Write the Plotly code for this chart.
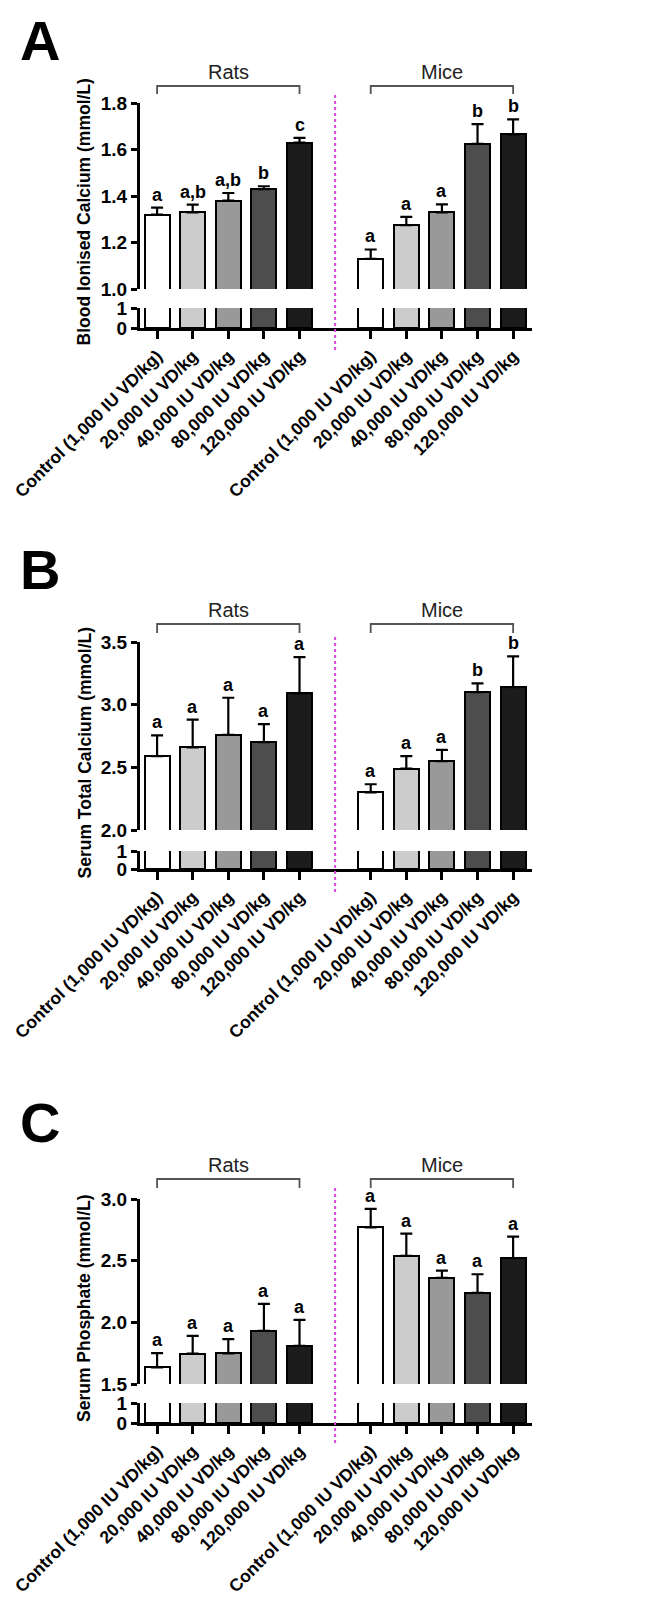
import plotly.graph_objects as go

# page body has an 8px margin: draw the figure 8px smaller and shift all pixel positions
OFF = 8
W, H = 669 - OFF, 1599 - OFF

# ---------------- data ----------------
groups = ["Control (1,000 IU VD/kg)", "20,000 IU VD/kg", "40,000 IU VD/kg",
          "80,000 IU VD/kg", "120,000 IU VD/kg"]
tick_labels = groups + groups
bar_colors = ["#ffffff", "#cccccc", "#999999", "#4d4d4d", "#1c1c1c"]

# Panel A: Blood ionised calcium
a_rats_mean = [1.32, 1.33, 1.38, 1.43, 1.63]
a_rats_sem = [0.03, 0.033, 0.033, 0.012, 0.02]
a_mice_mean = [1.13, 1.275, 1.33, 1.624, 1.665]
a_mice_sem = [0.04, 0.035, 0.034, 0.085, 0.065]
a_rats_letters = ["a", "a,b", "a,b", "b", "c"]
a_mice_letters = ["a", "a", "a", "b", "b"]

# Panel B: Serum total calcium
b_rats_mean = [2.59, 2.66, 2.76, 2.70, 3.09]
b_rats_sem = [0.165, 0.22, 0.295, 0.145, 0.29]
b_mice_mean = [2.30, 2.49, 2.55, 3.10, 3.14]
b_mice_sem = [0.065, 0.10, 0.09, 0.07, 0.245]
b_rats_letters = ["a", "a", "a", "a", "a"]
b_mice_letters = ["a", "a", "a", "b", "b"]

# Panel C: Serum phosphate
c_rats_mean = [1.635, 1.746, 1.749, 1.93, 1.81]
c_rats_sem = [0.115, 0.145, 0.115, 0.22, 0.21]
c_mice_mean = [2.77, 2.54, 2.36, 2.24, 2.52]
c_mice_sem = [0.15, 0.18, 0.06, 0.15, 0.175]
c_rats_letters = ["a", "a", "a", "a", "a"]
c_mice_letters = ["a", "a", "a", "a", "a"]

rats_x = [0, 1, 2, 3, 4]
mice_x = [6, 7, 8, 9, 10]
divider_x = 5

panels = [
    dict(letter="A", title="Blood Ionised Calcium (mmol/L)",
         rats=a_rats_mean, rats_sem=a_rats_sem, mice=a_mice_mean, mice_sem=a_mice_sem,
         rl=a_rats_letters, ml=a_mice_letters,
         up_range=[1.0, 1.8], dtick=0.2, tickfmt=".1f",
         letter_top=8, label_y=72, bracket_y=86, bracket_tick=94,
         up_px=(103, 289), lo_px=(308, 328), div_px=(95, 350)),
    dict(letter="B", title="Serum Total Calcium (mmol/L)",
         rats=b_rats_mean, rats_sem=b_rats_sem, mice=b_mice_mean, mice_sem=b_mice_sem,
         rl=b_rats_letters, ml=b_mice_letters,
         up_range=[2.0, 3.5], dtick=0.5, tickfmt=".1f",
         letter_top=537, label_y=610, bracket_y=624, bracket_tick=633,
         up_px=(642, 830), lo_px=(851, 869), div_px=(634, 892)),
    dict(letter="C", title="Serum Phosphate (mmol/L)",
         rats=c_rats_mean, rats_sem=c_rats_sem, mice=c_mice_mean, mice_sem=c_mice_sem,
         rl=c_rats_letters, ml=c_mice_letters,
         up_range=[1.5, 3.0], dtick=0.5, tickfmt=".1f",
         letter_top=1090, label_y=1165, bracket_y=1179, bracket_tick=1188,
         up_px=(1199, 1384), lo_px=(1403, 1423), div_px=(1187, 1443)),
]

def px_x(x):
    return (x - OFF) / W

def py(y):
    return 1 - (y - OFF) / H

FONT = "Liberation Sans, Arial, sans-serif"
x_dom = [px_x(140), px_x(532)]
x_range = [-0.48, 10.53]
BAR_W = 0.7

fig = go.Figure()
layout = dict(width=W, height=H, margin=dict(l=0, r=0, t=0, b=0, autoexpand=False),
              plot_bgcolor="white", paper_bgcolor="white", showlegend=False,
              bargap=0, barmode="overlay")
annotations = []
shapes = []

for i, p in enumerate(panels):
    xn = "x" if i == 0 else f"x{i+1}"
    xk = "xaxis" if i == 0 else f"xaxis{i+1}"
    lo_n = 2 * i + 1
    up_n = 2 * i + 2
    lo_y = "y" if lo_n == 1 else f"y{lo_n}"
    up_y = f"y{up_n}"
    lo_k = "yaxis" if lo_n == 1 else f"yaxis{lo_n}"
    up_k = f"yaxis{up_n}"

    xs = rats_x + mice_x
    means = p["rats"] + p["mice"]
    sems = p["rats_sem"] + p["mice_sem"]
    letters = p["rl"] + p["ml"]
    colors = bar_colors + bar_colors

    # upper segment
    fig.add_trace(go.Bar(x=xs, y=means, width=BAR_W, xaxis=xn, yaxis=up_y,
                         marker=dict(color=colors, line=dict(color="black", width=2)),
                         error_y=dict(type="data", symmetric=False, array=sems,
                                      arrayminus=[0] * len(sems), color="black",
                                      thickness=2.2, width=6),
                         hoverinfo="skip"))
    # lower segment
    fig.add_trace(go.Bar(x=xs, y=means, width=BAR_W, xaxis=xn, yaxis=lo_y,
                         marker=dict(color=colors, line=dict(color="black", width=2)),
                         hoverinfo="skip"))

    layout[xk] = dict(domain=x_dom, range=x_range, anchor=lo_y, automargin=False,
                      tickmode="array", tickvals=xs, ticktext=tick_labels,
                      tickangle=-45, ticks="outside", ticklen=8, tickwidth=2.5,
                      tickcolor="black", showline=True, linewidth=3, linecolor="black",
                      showgrid=False, zeroline=False, ticklabeloverflow="allow",
                      tickfont=dict(family=FONT, size=17.5, color="black", weight="bold"))
    layout[lo_k] = dict(domain=[py(p["lo_px"][1]), py(p["lo_px"][0])], range=[0, 1.0],
                        anchor=xn, automargin=False,
                        tickmode="array", tickvals=[0, 1], ticktext=["0", "1"],
                        ticks="outside", ticklen=6, tickwidth=2.5, tickcolor="black",
                        showline=True, linewidth=3, linecolor="black",
                        showgrid=False, zeroline=False,
                        tickfont=dict(family=FONT, size=19, color="black", weight="bold"))
    layout[up_k] = dict(domain=[py(p["up_px"][1]), py(p["up_px"][0])], range=p["up_range"],
                        anchor=xn, automargin=False,
                        dtick=p["dtick"], tick0=p["up_range"][0],
                        tickformat=p["tickfmt"],
                        ticks="outside", ticklen=6, tickwidth=2.5, tickcolor="black",
                        showline=True, linewidth=3, linecolor="black",
                        showgrid=False, zeroline=False,
                        tickfont=dict(family=FONT, size=19, color="black", weight="bold"))

    # significance letters
    for xv, m, s, t in zip(xs, means, sems, letters):
        annotations.append(dict(x=xv, y=m + s, xref=xn, yref=up_y, text=t,
                                showarrow=False, yanchor="bottom", yshift=1,
                                font=dict(family=FONT, size=18, color="black", weight="bold")))

    # panel letter
    annotations.append(dict(x=px_x(19), y=py(p["letter_top"]), xref="paper", yref="paper",
                            text=p["letter"], showarrow=False, xanchor="left", yanchor="top",
                            borderpad=0,
                            font=dict(family=FONT, size=56, color="black", weight="bold")))
    # y title
    mid = (p["up_px"][0] + p["lo_px"][1]) / 2
    annotations.append(dict(x=px_x(84), y=py(mid - 3), xref="paper", yref="paper",
                            text=p["title"], textangle=-90, showarrow=False,
                            xanchor="center", yanchor="middle",
                            font=dict(family=FONT, size=17.5, color="black", weight="bold")))
    # group brackets + labels
    for gx, name in ((rats_x, "Rats"), (mice_x, "Mice")):
        x0, x1 = gx[0], gx[-1]
        shapes.append(dict(type="path", xref=xn, yref="paper",
                           path=f"M {x0},{py(p['bracket_tick'])} L {x0},{py(p['bracket_y'])} "
                                f"L {x1},{py(p['bracket_y'])} L {x1},{py(p['bracket_tick'])}",
                           line=dict(color="#555555", width=1.8)))
        annotations.append(dict(x=(x0 + x1) / 2, y=py(p["label_y"]), xref=xn, yref="paper",
                                text=name, showarrow=False, yanchor="middle",
                                font=dict(family=FONT, size=20, color="#222222")))
    # magenta divider
    shapes.append(dict(type="line", xref=xn, yref="paper", x0=divider_x, x1=divider_x,
                       y0=py(p["div_px"][1]), y1=py(p["div_px"][0]),
                       line=dict(color="#dd44dd", width=2, dash="dot")))

layout["annotations"] = annotations
layout["shapes"] = shapes
fig.update_layout(**layout)
fig.write_html("out.html")
